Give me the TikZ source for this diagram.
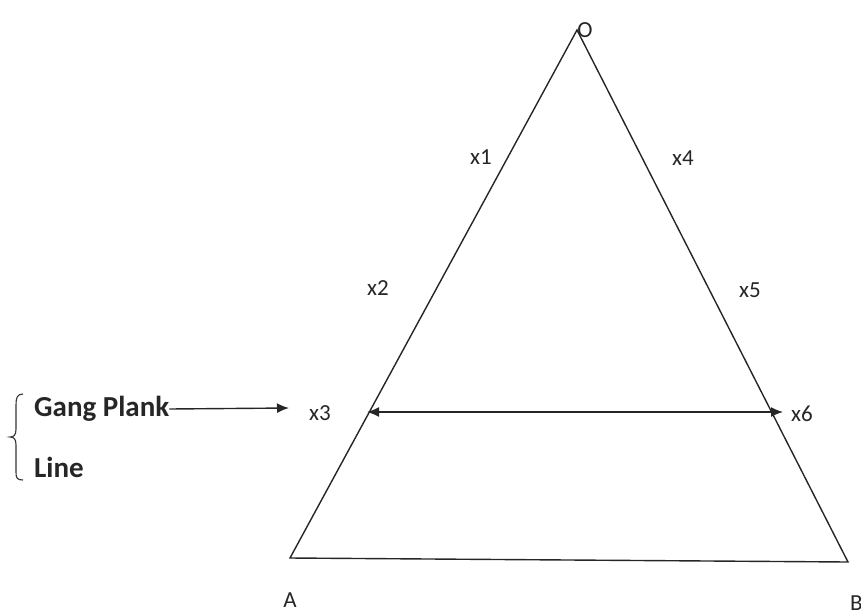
\documentclass[tikz,border=0pt]{standalone}
\usepackage{fontspec}
\setmainfont{Carlito}
\usetikzlibrary{arrows.meta}
\begin{document}
\begin{tikzpicture}[x=1pt,y=-1pt,
  edge/.style={line width=1.4pt,black!85},
  lbl/.style={font=\fontsize{23}{26}\selectfont,text=black!85,inner sep=0pt},
  blbl/.style={font=\fontsize{29}{32}\selectfont\bfseries,text=black!85,inner sep=0pt,anchor=west},
  arr/.style={line width=1.4pt,black!85,-{Latex[length=12pt,width=10pt]}}]
\useasboundingbox (0,0) rectangle (861,613);
\coordinate (O) at (577,30);
\coordinate (A) at (290,558);
\coordinate (B) at (848,562);
\draw[edge] (O) -- (A) -- (B) -- cycle;
\node[lbl] (lO) at (585,30) {O};
\node[lbl] (lA) at (290,600) {A};
\node[lbl,anchor=west] (lB) at (850,603) {B};
\node[lbl] (x1) at (481,157) {x1};
\node[lbl] (x2) at (378,288) {x2};
\node[lbl] (x3) at (320,413) {x3};
\node[lbl] (x4) at (683,158) {x4};
\node[lbl] (x5) at (750,290) {x5};
\node[lbl] (x6) at (802,414) {x6};
\coordinate (p3) at (367,412);
\coordinate (p6) at (783,412);
\draw[arr,{Latex[length=12pt,width=10pt]}-{Latex[length=12pt,width=10pt]}] (p3) -- (p6);
\node[blbl] (gp) at (34,409) {Gang Plank};
\node[blbl] (ln) at (34,467) {Line};
\coordinate (gpt) at (289,408);
\draw[arr] (gp.east) -- (gpt);
\draw[line width=1.1pt,black!80] (23,394) .. controls (17,394) and (16,398) .. (16,405) -- (16,429)
  .. controls (16,435) and (14,437) .. (10,437) .. controls (14,437) and (16,439) .. (16,445)
  -- (16,472) .. controls (16,478) and (17,480) .. (23,480);
\end{tikzpicture}
\end{document}
